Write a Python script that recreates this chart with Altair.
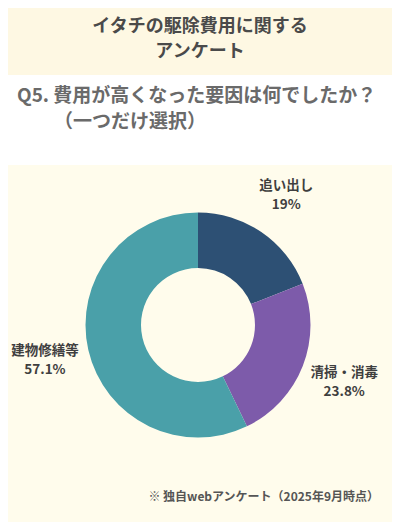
import altair as alt
import pandas as pd

# ---- data ----
categories = ["追い出し", "清掃・消毒", "建物修繕等"]
values = [19, 23.8, 57.1]
colors = ["#2D5074", "#7D5BAA", "#4AA0A9"]
title_lines = ["イタチの駆除費用に関する", "アンケート"]
question_lines = ["Q5. 費用が高くなった要因は何でしたか？", "（一つだけ選択）"]
footnote = "※ 独自webアンケート（2025年9月時点）"

FONT = "Noto Sans CJK JP"
W, H = 384, 514
CX, CY = 190, 317

df = pd.DataFrame({
    "cat": categories,
    "val": values,
    "idx": list(range(len(categories))),
    "pct": [f"{v:g}%" for v in values],
})

# background bands
bands = pd.DataFrame({"k": ["head", "white"]})
head = alt.Chart(bands.iloc[[0]]).mark_rect(color="#FEF8E3").encode(
    x=alt.value(0), x2=alt.value(W), y=alt.value(0), y2=alt.value(67))
white = alt.Chart(bands.iloc[[1]]).mark_rect(color="#FFFFFF").encode(
    x=alt.value(0), x2=alt.value(W), y=alt.value(67), y2=alt.value(157))

def text_layer(txt, x, y, size, color, align="center", weight="bold"):
    d = pd.DataFrame({"t": [txt]})
    return alt.Chart(d).mark_text(
        font=FONT, fontSize=size, fontWeight=weight, color=color,
        align=align, baseline="middle"
    ).encode(x=alt.value(x), y=alt.value(y), text="t:N")

t1 = text_layer(title_lines[0], 192, 19, 18, "#4A4A4A")
t2 = text_layer(title_lines[1], 192, 44, 18, "#4A4A4A")
q1 = text_layer(question_lines[0], 9, 88, 19, "#6A6A6A", align="left")
q2 = text_layer(question_lines[1], 46, 114, 19, "#6A6A6A", align="left")
fn = text_layer(footnote, 371, 489, 12, "#555555", align="right")

base = alt.Chart(df).encode(
    theta=alt.Theta("val:Q", stack=True),
    order=alt.Order("idx:Q"),
    x=alt.value(CX), y=alt.value(CY),
)

arcs = base.mark_arc(innerRadius=57, outerRadius=112.5).encode(
    color=alt.Color("cat:N", scale=alt.Scale(domain=categories, range=colors),
                    legend=None),
)

label_style = dict(radius=157, font=FONT, fontSize=13.5, fontWeight="bold",
                   color="#3F3F3F", align="center", baseline="middle")
names = base.mark_text(dy=-9, **label_style).encode(text="cat:N")
pcts = base.mark_text(dy=9.5, **label_style).encode(text="pct:N")

chart = alt.layer(head, white, t1, t2, q1, q2, arcs, names, pcts, fn).properties(
    width=W, height=H, padding=0, autosize="none", background="#FFFCEC",
).configure_view(stroke=None)

chart.save("out.html", embed_options={"renderer": "svg", "actions": False})
